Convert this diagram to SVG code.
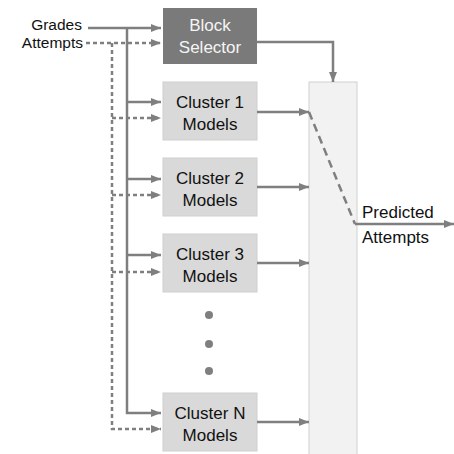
<svg xmlns="http://www.w3.org/2000/svg" width="454" height="454" viewBox="0 0 454 454">
<style>
.ln{stroke:#7f7f7f;stroke-width:2.5;fill:none}
.ds{stroke:#7f7f7f;stroke-width:2.5;fill:none;stroke-dasharray:4 3}
.dd{stroke:#7f7f7f;stroke-width:2.5;fill:none;stroke-dasharray:8 5}
.box{fill:#d9d9d9;stroke:#cfcfcf;stroke-width:1}
.t{font-family:"Liberation Sans",Arial,sans-serif;font-size:17px;fill:#111;text-anchor:middle}
.lbl{font-family:"Liberation Sans",Arial,sans-serif;font-size:17px;fill:#111}
.in{font-family:"Liberation Sans",Arial,sans-serif;font-size:15.5px;fill:#111;text-anchor:end}
</style>
<defs>
<marker id="ah" markerWidth="10" markerHeight="8" refX="10" refY="4" orient="auto" markerUnits="userSpaceOnUse">
<path d="M0,0 L10,4 L0,8 Z" fill="#7f7f7f"/>
</marker>
</defs>
<g id="panel"><rect x="309" y="82" width="48" height="380" fill="#f2f2f2" stroke="#d0d0d0" stroke-width="1"/></g>
<g id="block-selector"><rect x="163" y="8" width="94" height="56" fill="#7a7a7a"/><text class="t" x="210" y="31" style="fill:#f5f5f5">Block</text><text class="t" x="210" y="53" style="fill:#f5f5f5">Selector</text></g>
<g id="cluster1"><rect class="box" x="163" y="82" width="94" height="58"/><text class="t" x="210" y="108">Cluster 1</text><text class="t" x="210" y="130">Models</text></g>
<g id="cluster2"><rect class="box" x="163" y="158" width="94" height="58"/><text class="t" x="210" y="184">Cluster 2</text><text class="t" x="210" y="206">Models</text></g>
<g id="cluster3"><rect class="box" x="163" y="234" width="94" height="58"/><text class="t" x="210" y="260">Cluster 3</text><text class="t" x="210" y="282">Models</text></g>
<g id="clusterN"><rect class="box" x="163" y="393" width="94" height="58"/><text class="t" x="210" y="419">Cluster N</text><text class="t" x="210" y="441">Models</text></g>
<g id="dots" fill="#7f7f7f"><circle cx="209" cy="315" r="4"/><circle cx="209" cy="344" r="4"/><circle cx="209" cy="371" r="4"/></g>
<g id="labels"><text class="in" x="82" y="30">Grades</text><text class="in" x="83" y="47.5">Attempts</text><text class="lbl" x="362" y="218">Predicted</text><text class="lbl" x="362" y="243">Attempts</text></g>
<g id="connectors">
<path class="ln" d="M88,28 L161,28" marker-end="url(#ah)"/>
<path class="ds" d="M86,43 L161,43" marker-end="url(#ah)"/>
<path class="ln" d="M127,28 L127,413 L161,413" marker-end="url(#ah)"/>
<path class="ds" d="M112,43 L112,429 L161,429" marker-end="url(#ah)"/>
<path class="ln" d="M127,102 L161,102" marker-end="url(#ah)"/>
<path class="ds" d="M112,118 L161,118" marker-end="url(#ah)"/>
<path class="ln" d="M127,179 L161,179" marker-end="url(#ah)"/>
<path class="ds" d="M112,195 L161,195" marker-end="url(#ah)"/>
<path class="ln" d="M127,255 L161,255" marker-end="url(#ah)"/>
<path class="ds" d="M112,272 L161,272" marker-end="url(#ah)"/>
<path class="ln" d="M257,42 L333,42 L333,82" marker-end="url(#ah)"/>
<path class="ln" d="M257,112 L309,112" marker-end="url(#ah)"/>
<path class="ln" d="M257,187 L309,187" marker-end="url(#ah)"/>
<path class="ln" d="M257,263 L309,263" marker-end="url(#ah)"/>
<path class="ln" d="M257,422 L309,422" marker-end="url(#ah)"/>
<path class="dd" d="M309,112 L355,224"/>
<path class="ln" d="M355,224 L454,224" marker-end="url(#ah)"/>
</g>
</svg>
